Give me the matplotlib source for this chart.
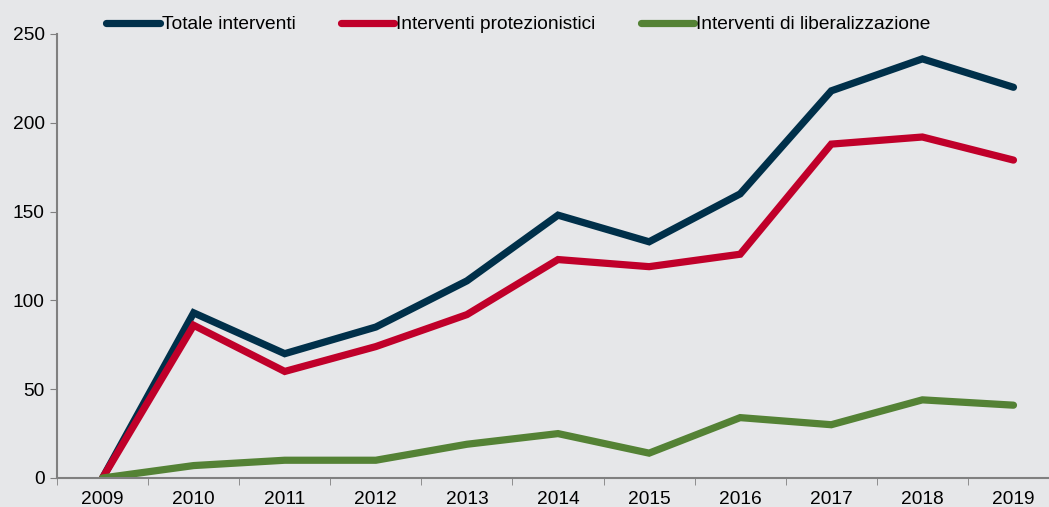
import matplotlib.pyplot as plt

# data
anni = ["2009", "2010", "2011", "2012", "2013", "2014", "2015", "2016", "2017", "2018", "2019"]
totale = [0, 93, 70, 85, 111, 148, 133, 160, 218, 236, 220]
protezionistici = [0, 86, 60, 74, 92, 123, 119, 126, 188, 192, 179]
liberalizzazione = [0, 7, 10, 10, 19, 25, 14, 34, 30, 44, 41]

bg = "#E6E7E9"
plt.rcParams["font.family"] = ["Liberation Sans", "DejaVu Sans"]
plt.rcParams["font.size"] = 13.8

fig = plt.figure(figsize=(10.49, 5.07), dpi=100, facecolor=bg)
ax = fig.add_axes([57 / 1049, 29 / 507, 1 - 57 / 1049, 444 / 507])
ax.set_facecolor(bg)

x = list(range(len(anni)))
ax.plot(x, totale, color="#00304A", lw=5.2, solid_capstyle="round", solid_joinstyle="miter", label="Totale interventi")
ax.plot(x, protezionistici, color="#C0002A", lw=5.2, solid_capstyle="round", solid_joinstyle="miter", label="Interventi protezionistici")
ax.plot(x, liberalizzazione, color="#548235", lw=5.2, solid_capstyle="round", solid_joinstyle="miter", label="Interventi di liberalizzazione")

ax.set_yticks(range(0, 251, 50))
ax.set_xticks(x)
ax.set_xticklabels(anni)
ax.set_xticks([i + 0.5 for i in range(-1, 10)], minor=True)
ax.set_ylim(0, 250)
ax.set_xlim(-0.5, 10.39)
ax.tick_params(axis="x", which="major", length=0, pad=9)
ax.tick_params(axis="x", which="minor", length=5, color="#808080", direction="out")
ax.tick_params(axis="y", length=5, color="#808080", direction="out", pad=4)
for s in ["top", "right"]:
    ax.spines[s].set_visible(False)
for s in ["left", "bottom"]:
    ax.spines[s].set_color("#808080")
    ax.spines[s].set_linewidth(1.5)

leg = fig.legend(loc="upper left", bbox_to_anchor=(93 / 1049, 0.995), ncol=3, frameon=False,
                 handlelength=2.8, handletextpad=0.1, columnspacing=2.35, borderaxespad=0.3)
for h in leg.get_lines():
    h.set_solid_capstyle("round")

fig.savefig("out.png", dpi=100, facecolor=bg)
